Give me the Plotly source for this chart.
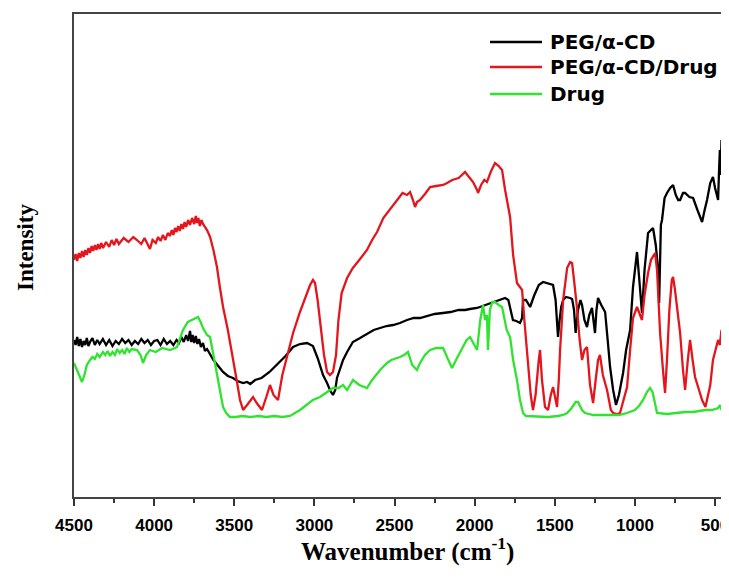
import plotly.graph_objects as go

# Wavenumber (cm^-1) and intensity readings (arbitrary units)
peg_cd_wn = [4500, 4490, 4480, 4470, 4460, 4450, 4440, 4430, 4420, 4410, 4400, 4385, 4370, 4355, 4340, 4320,
             4300, 4280, 4260, 4240, 4220, 4200, 4180, 4160, 4140, 4120, 4100, 4080, 4060, 4040, 4020, 4000,
             3980, 3960, 3940, 3920, 3900, 3880, 3860, 3845, 3830, 3815, 3800, 3788, 3776, 3768, 3760, 3750,
             3740, 3730, 3720, 3708, 3695, 3683, 3670, 3651, 3630, 3600, 3570,
             3540, 3508, 3480, 3445, 3420, 3400, 3370, 3330, 3280, 3230, 3180, 3133, 3090, 3046, 3009, 2980,
             2946, 2921, 2900, 2884, 2870, 2859, 2840, 2821, 2796, 2760, 2715, 2670, 2630, 2590, 2550, 2509,
             2466, 2422, 2380, 2341, 2300, 2250, 2197, 2150, 2100, 2060, 2029, 1985, 1950, 1900, 1850, 1810,
             1790, 1775, 1761, 1740, 1717, 1704, 1698, 1680, 1654, 1630, 1600, 1573, 1540, 1511, 1495, 1480,
             1470, 1460, 1448, 1430, 1405, 1392, 1380, 1370, 1355, 1340, 1330, 1315, 1299, 1285, 1268, 1255,
             1249, 1240, 1230, 1210, 1186, 1170, 1155, 1136, 1118, 1100, 1074, 1055, 1043, 1030, 1012, 995,
             987, 975, 965, 956, 940, 918, 900, 887, 870, 862, 852, 849, 845, 838, 831, 815, 800, 780, 762,
             745, 730, 718, 700, 687, 660, 637, 610, 581, 565, 550, 530, 513, 500, 481, 475, 470, 465, 460,
             455, 450, 445, 440, 435, 430, 425, 420, 413]
peg_cd_px = [340, 345, 337, 346, 339, 347, 341, 345, 338, 346, 342, 338, 345, 340, 344, 339,
             345, 340, 346, 341, 344, 339, 343, 340, 345, 341, 344, 339, 343, 340, 345, 341,
             340, 345, 339, 344, 341, 345, 340, 343, 337, 342, 335, 341, 331, 342, 335, 343,
             336, 344, 339, 347, 343, 351, 349, 354, 360, 366, 372,
             376, 378, 381, 383, 382, 384, 380, 378, 372, 364, 356, 347, 344, 343, 346, 358,
             375, 383, 391, 395, 390, 378, 370, 360, 352, 342, 338, 334, 330, 328, 326, 325,
             323, 320, 318, 318, 316, 314, 313, 312, 310, 310, 309, 308, 306, 303, 300, 298,
             300, 310, 320, 321, 323, 318, 300, 300, 307, 296, 285, 282, 284, 285, 300, 337,
             320, 307, 300, 297, 298, 299, 310, 333, 310, 300, 305, 320, 327, 315, 308, 325,
             333, 310, 298, 305, 312, 340, 367, 390, 405, 395, 373, 350, 340, 330, 287, 265,
             252, 275, 300, 313, 270, 233, 230, 228, 245, 262, 275, 303, 280, 225, 220, 198, 193, 188, 185,
             195, 200, 200, 193, 193, 197, 198, 210, 222, 210, 200, 183, 177, 188, 200, 170, 150, 175, 140,
             160, 130, 150, 118, 140, 115, 125, 135, 120]

peg_cd_drug_wn = [4500, 4490, 4480, 4470, 4460, 4450, 4440, 4430, 4420, 4410, 4400, 4390, 4380, 4370, 4360,
                  4350, 4340, 4330, 4319, 4300, 4280, 4265, 4250, 4235, 4220,
                  4190, 4160, 4130, 4107, 4080, 4060, 4040, 4026, 4010, 3990, 3975, 3960, 3945, 3930, 3915,
                  3901, 3890, 3880, 3870, 3860,
                  3850, 3840, 3830, 3820, 3810, 3800, 3788, 3776, 3763, 3750, 3740, 3732, 3724, 3715, 3705,
                  3695, 3670, 3651, 3630, 3608, 3590, 3570, 3540,
                  3508, 3485, 3464, 3445, 3420, 3400, 3383, 3360, 3340, 3327, 3300, 3277, 3255, 3227, 3200,
                  3152, 3133, 3090, 3060, 3027, 3009, 2996, 2980, 2960, 2940, 2921, 2903, 2884, 2865, 2850,
                  2830, 2796, 2760, 2720, 2672, 2640, 2609, 2570, 2540, 2509, 2480, 2450, 2422, 2403, 2385,
                  2372, 2360, 2341, 2310, 2278, 2240, 2197, 2172, 2140, 2100, 2073, 2060, 2040, 2010, 1985,
                  1979, 1960, 1940, 1923, 1900, 1873, 1850, 1829, 1810, 1779, 1760, 1736, 1717, 1704, 1690,
                  1667, 1650, 1636, 1620, 1600, 1592, 1580, 1565, 1561, 1542, 1525, 1511, 1495, 1486, 1475,
                  1467, 1448, 1423, 1405, 1392, 1380, 1362, 1345, 1330, 1315, 1299, 1280, 1261, 1245, 1230,
                  1218, 1200, 1174, 1150, 1136, 1110, 1093, 1070, 1049, 1030, 1012, 987, 970, 956, 940, 918,
                  900, 874, 862, 843, 825, 812, 800, 785, 770, 762, 750, 730, 718, 700, 687, 670, 656, 640,
                  625, 600, 581, 560, 550, 530, 513, 495, 481, 470, 460, 450, 440, 432, 425, 418, 413]
peg_cd_drug_px = [260, 254, 261, 253, 258, 251, 257, 250, 255, 248, 253, 246, 251, 245, 250,
                  244, 249, 243, 248, 242, 247, 240, 245, 239, 244,
                  238, 242, 237, 240, 244, 238, 245, 249, 240, 243, 237, 241, 235, 240, 233,
                  236, 230, 235, 228, 232,
                  226, 231, 224, 229, 222, 227, 220, 225, 218, 224, 216, 223, 218, 226, 220,
                  224, 230, 237, 250, 267, 287, 307, 330,
                  357, 380, 400, 410, 405, 400, 397, 403, 408, 410, 397, 385, 395, 400, 375,
                  345, 333, 312, 300, 285, 280, 283, 300, 330, 355, 372, 375, 372, 355, 320,
                  293, 278, 268, 260, 250, 240, 232, 218, 212, 205, 200, 193, 195, 192, 200,
                  207, 202, 200, 194, 187, 186, 185, 183, 180, 178, 174, 172, 176, 182, 190,
                  193, 185, 180, 182, 172, 163, 166, 170, 190, 217, 255, 283, 288, 290, 320,
                  367, 395, 410, 395, 360, 350, 380, 405, 407, 410, 395, 387, 400, 407, 380,
                  350, 300, 268, 262, 263, 280, 307, 340, 360, 350, 347, 385, 403, 380, 360,
                  355, 375, 390, 410, 413, 414, 413, 400, 387, 350, 318, 307, 315, 320, 295, 273,
                  260, 253, 270, 333, 370, 393, 360, 310, 280, 277, 290, 320, 333, 370, 390, 360, 340, 360,
                  377, 390, 400, 407, 400, 385, 360, 350, 340, 345, 330, 333, 335, 320, 307, 330, 313]

drug_wn = [4500, 4480, 4460, 4450, 4435, 4420, 4400, 4385, 4370, 4355, 4340, 4319, 4305, 4290, 4275, 4260,
           4245, 4230, 4215, 4200, 4185, 4170, 4155, 4140,
           4107, 4085, 4069, 4050, 4026, 3990, 3950, 3901, 3870, 3857, 3835, 3820, 3790, 3760, 3726, 3710,
           3695, 3670, 3651, 3630, 3608, 3590, 3570, 3550, 3527, 3490, 3450, 3400, 3350, 3300, 3250, 3200,
           3152, 3090, 3050, 3010, 2965, 2920, 2884, 2850, 2821, 2796, 2778, 2759, 2720, 2672, 2640, 2590,
           2547, 2520, 2466, 2440, 2416, 2390, 2360, 2341, 2310, 2278, 2240, 2197, 2170, 2141, 2110, 2073,
           2050, 2029, 2005, 1985, 1965, 1948, 1935, 1923, 1917, 1905, 1890, 1873, 1850, 1829, 1800, 1779,
           1760, 1736, 1717, 1698, 1680, 1600, 1540, 1480, 1448, 1423, 1395, 1370, 1355, 1330, 1311, 1260,
           1200, 1155, 1100, 1050, 1000, 970, 949, 925, 906, 890, 874, 862, 800, 740, 687, 637, 600, 560,
           520, 481, 470, 460, 450, 440, 435, 430, 425, 422, 413]
drug_px = [363, 370, 378, 382, 375, 365, 360, 357, 359, 354, 357, 352, 355, 351, 356, 352,
           355, 349, 353, 350, 354, 348, 352, 349,
           350, 355, 363, 355, 350, 352, 348, 350, 348, 347, 337, 330, 322, 320, 317, 322,
           328, 335, 337, 355, 373, 390, 407, 413, 417, 417, 416, 417, 416, 417, 416, 417,
           416, 410, 405, 400, 397, 392, 388, 388, 385, 390, 385, 380, 385, 388, 380, 370,
           363, 360, 357, 355, 352, 365, 370, 363, 355, 350, 348, 348, 358, 368, 358, 347,
           340, 337, 345, 350, 320, 305, 320, 315, 350, 310, 302, 302, 305, 307, 330, 337,
           360, 380, 400, 413, 416, 417, 417, 416, 415, 413, 408, 402, 402, 410, 413, 415,
           415, 415, 415, 413, 410, 405, 400, 392, 388, 392, 405, 413, 414, 413, 412, 412, 411, 410,
           410, 408, 405, 410, 402, 409, 400, 407, 395, 367, 365]

series_names = ["PEG/α-CD", "PEG/α-CD/Drug", "Drug"]
series_colors = ["#000000", "#e3161e", "#2fe32f"]

x_tick_vals = [4500, 4000, 3500, 3000, 2500, 2000, 1500, 1000, 500]
x_tick_text = ["4500", "4000", "3500", "3000", "2500", "2000", "1500", "1000", "500"]

x_title = "Wavenumber (cm<sup>-1</sup>)"
y_title = "Intensity"

IMG_H = 500  # intensity = IMG_H - reading

# page geometry: the html body has an 8px margin, so the figure is made that much smaller
PAGE_W, PAGE_H, BODY = 729, 577, 8
W, H = PAGE_W - BODY, PAGE_H - BODY
BOX_L, BOX_T, BOX_B, BOX_R = 74, 14, 497, 729   # plot box in page pixels
L, T, R, B = BOX_L - BODY, BOX_T - BODY, 0, PAGE_H - BOX_B
PW, PH = BOX_R - BOX_L, BOX_B - BOX_T


def to_int(vals):
    return [IMG_H - v for v in vals]


def px_x(px):
    return (px - BOX_L) / PW


def px_y(py):
    return (BOX_B - py) / PH


fig = go.Figure()
for name, color, wn, px in zip(series_names, series_colors,
                               [peg_cd_wn, peg_cd_drug_wn, drug_wn],
                               [peg_cd_px, peg_cd_drug_px, drug_px]):
    fig.add_trace(go.Scatter(x=wn, y=to_int(px), mode="lines", name=name,
                             line=dict(color=color, width=2.3), showlegend=False))

# legend drawn as lines + text
legend_rows_py = [42, 67, 94]
for name, color, py in zip(series_names, series_colors, legend_rows_py):
    fig.add_shape(type="line", xref="paper", yref="paper",
                  x0=px_x(490), x1=px_x(542), y0=px_y(py), y1=px_y(py),
                  line=dict(color=color, width=2.5))
    fig.add_annotation(xref="paper", yref="paper", x=px_x(548), y=px_y(py),
                       xanchor="left", yanchor="middle", showarrow=False, text=name,
                       font=dict(family="DejaVu Sans", size=20, color="black", weight="bold"))

# axis titles
fig.add_annotation(xref="paper", yref="paper", x=px_x(407), y=px_y(549),
                   xanchor="center", yanchor="middle", showarrow=False, text=x_title,
                   font=dict(family="Liberation Serif, Times New Roman", size=25,
                             color="black", weight="bold"))
fig.add_annotation(xref="paper", yref="paper", x=px_x(25), y=px_y(248),
                   xanchor="center", yanchor="middle", showarrow=False, text=y_title,
                   textangle=-90,
                   font=dict(family="Liberation Serif, Times New Roman", size=23,
                             color="black", weight="bold"))

fig.update_layout(
    width=W, height=H,
    margin=dict(l=L, r=R, t=T, b=B),
    paper_bgcolor="white", plot_bgcolor="white",
    showlegend=False,
    xaxis=dict(range=[4500, 413], autorange=False, automargin=False,
               tickvals=x_tick_vals, ticktext=x_tick_text,
               ticks="outside", ticklen=7, tickwidth=1.5, tickcolor="#333",
               minor=dict(dtick=250, tick0=500, ticks="outside", ticklen=4, tickwidth=1.5, tickcolor="#333"),
               showline=True, linecolor="#444", linewidth=2, mirror=True,
               showgrid=False, zeroline=False, ticklabelstandoff=5, ticklabeloverflow="allow",
               tickfont=dict(family="Liberation Sans, Arial", size=17, color="black", weight="bold")),
    yaxis=dict(range=[IMG_H - BOX_B, IMG_H - BOX_T], autorange=False, automargin=False,
               showticklabels=False, ticks="",
               showline=True, linecolor="#444", linewidth=2, mirror=False,
               showgrid=False, zeroline=False),
)

fig.write_html("out.html")
